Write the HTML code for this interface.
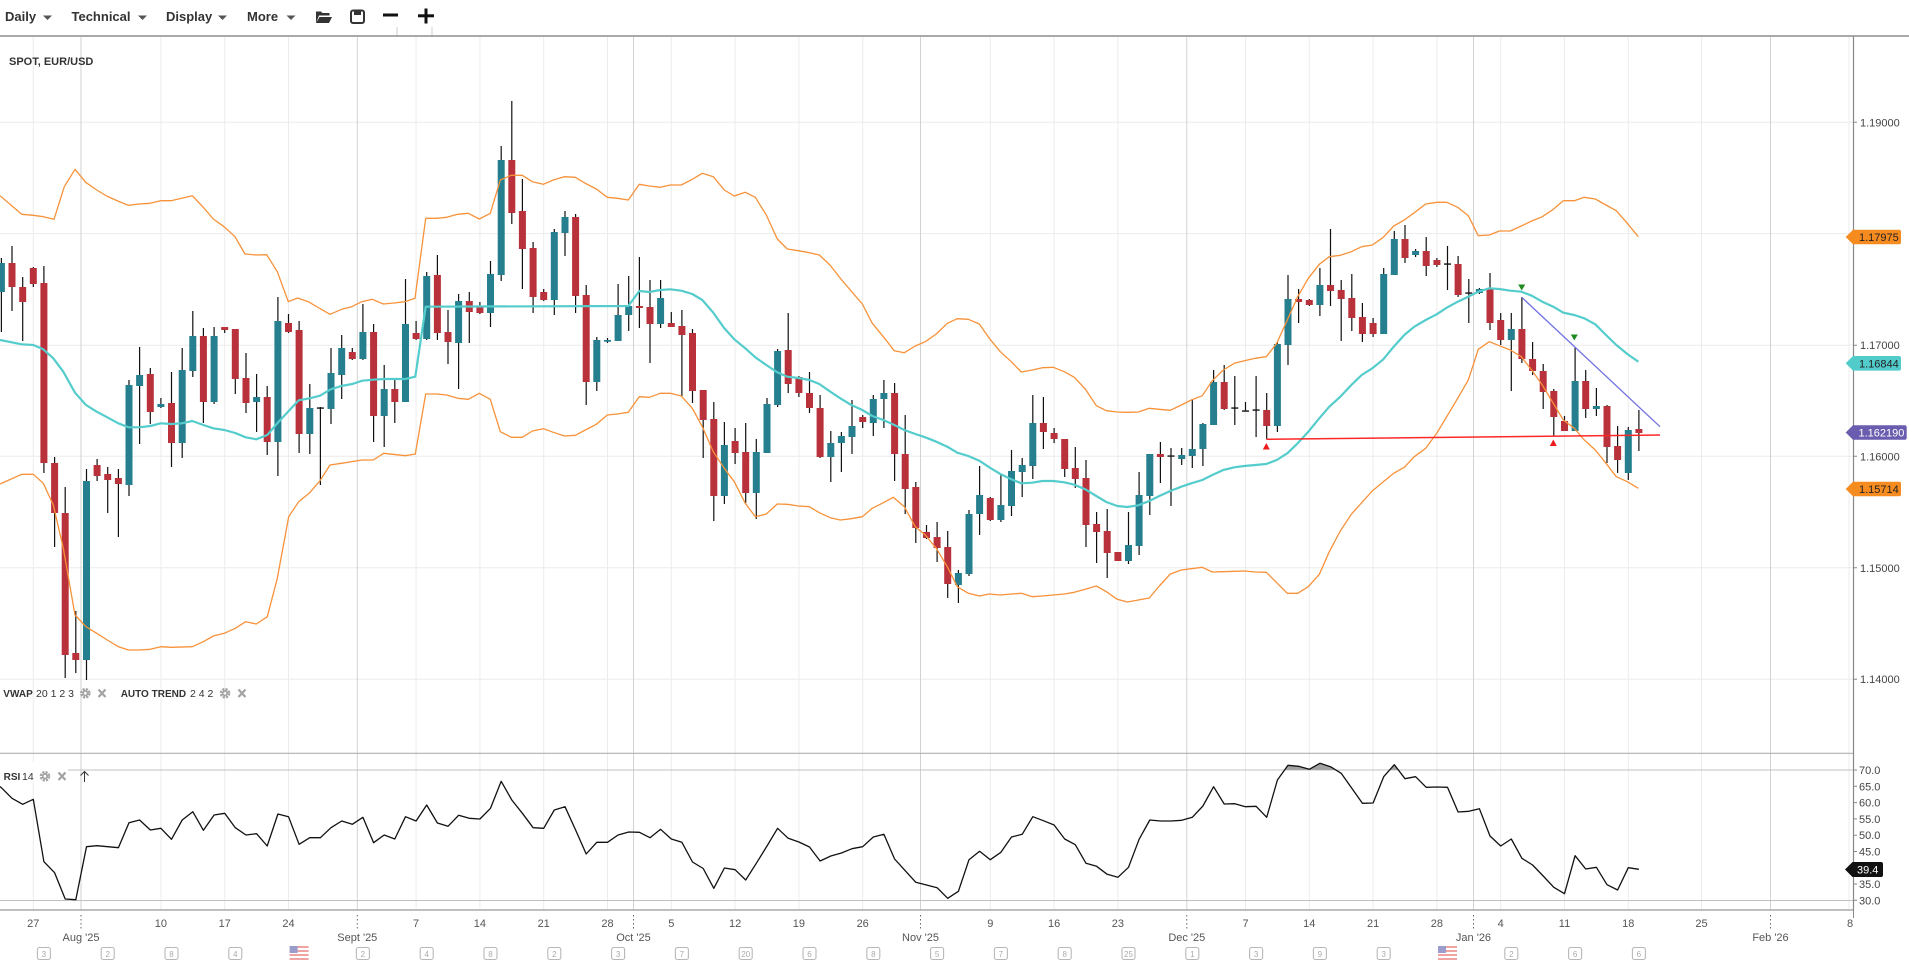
<!DOCTYPE html>
<html><head><meta charset="utf-8"><style>
html,body{margin:0;padding:0;background:#fff;width:1909px;height:966px;overflow:hidden}
svg{display:block;font-family:"Liberation Sans",Arial,sans-serif}
</style></head><body>
<svg width="1909" height="966" viewBox="0 0 1909 966" xmlns="http://www.w3.org/2000/svg">
<rect width="1909" height="966" fill="#fff"/>
<!-- toolbar -->
<g font-size="13" font-weight="bold" fill="#333">
<text x="5" y="21">Daily</text><text x="71.5" y="21">Technical</text><text x="166" y="21">Display</text><text x="247" y="21">More</text>
</g>
<g fill="#555"><polygon points="43,15.5 52,15.5 47.5,20"/><polygon points="138,15.5 147,15.5 142.5,20"/><polygon points="218,15.5 227,15.5 222.5,20"/><polygon points="286.5,15.5 295.5,15.5 291,20"/></g>
<path d="M316 11.5h5l1.5 1.5h7v2.5h-10.5l-3 7.5z M319.5 17h12.5l-3 6h-13z" fill="#333"/>
<rect x="351" y="10.5" width="13" height="12.5" rx="2" fill="none" stroke="#333" stroke-width="2"/><rect x="354" y="11" width="7" height="4" fill="#333"/>
<rect x="383" y="13.5" width="15" height="3" fill="#111"/>
<rect x="418" y="14.3" width="16" height="3" fill="#111"/><rect x="424.5" y="8.5" width="3" height="15" fill="#111"/>
<path d="M397 27V36M432 27V36" stroke="#ccc" stroke-width="1"/>
<line x1="0" y1="36" x2="1909" y2="36" stroke="#777" stroke-width="1.3"/>
<!-- grid -->
<g stroke="#ececec" stroke-width="1">
<path d="M0 122.3H1853M0 233.6H1853M0 345.2H1853M0 456.3H1853M0 567.8H1853M0 679.2H1853"/>
<path d="M33.3 37V910M160.9 37V910M224.7 37V910M288.5 37V910M416.1 37V910M479.9 37V910M543.7 37V910M607.5 37V910M671.3 37V910M735.1 37V910M798.9 37V910M862.7 37V910M990.3 37V910M1054.1 37V910M1117.9 37V910M1245.5 37V910M1309.3 37V910M1373.1 37V910M1436.9 37V910M1500.7 37V910M1564.5 37V910M1628.3 37V910M1701.5 37V910M1849 37V910"/>
</g>
<path d="M81 37V910M357.3 37V910M633.5 37V910M920.5 37V910M1186.8 37V910M1473.5 37V910M1770.5 37V910" stroke="#d2d2d2" stroke-width="1"/>
<text x="9" y="65" font-size="11" font-weight="bold" fill="#333">SPOT, EUR/USD</text>
<!-- candles -->
<path stroke="#111" stroke-width="1.2" fill="none" d="M1.4 258V332M12 246V311M22.7 277V341M33.3 267V287M43.9 266V473M54.6 457V547M65.2 487V678M75.8 611V673M86.5 469V680M97.1 459V481M107.7 467V513M118.4 469V537M129 380V496M139.6 347V444M150.3 368V424M160.9 398V408M171.5 372V467M182.2 348V458M192.8 311V377M203.4 328V423M214.1 327V404M224.7 327V333M235.3 329V394M246 353V413M256.6 374V432M267.2 386V455M277.9 297V476M288.5 314V333M299.1 321V453M309.8 384V454M320.4 407V485M331 348V424M341.7 335V399M352.3 348V360M362.9 304V360M373.6 324V442M384.2 365V447M394.8 380V423M405.5 279V402M416.1 321V340M426.7 272V340M437.4 255V340M448 310V364M458.6 294V389M469.3 292V343M479.9 302V314M490.5 261V327M501.2 146V281M511.8 101V224M522.4 179V289M533.1 242V313M543.7 289V301M554.3 229V315M565 211V256M575.6 214V313M586.2 285V405M596.8 337V391M607.5 338V343M618.1 284V341M628.7 276V331M639.4 257V328M650 280V363M660.6 280V328M671.3 312V327M681.9 310V396M692.5 329V403M703.2 390V458M713.8 402V521M724.4 422V504M735.1 428V464M745.7 423V503M756.3 439V519M767 398V453M777.6 349V407M788.2 313V393M798.9 376V397M809.5 372V413M820.1 395V458M830.8 431V482M841.4 432V472M852 400V454M862.7 415V428M873.3 395V436M883.9 380V428M894.6 383V481M905.2 415V514M915.8 482V543M926.5 525V539M937.1 522V562M947.7 531V598M958.4 570V603M969 510V576M979.6 466V535M990.3 497V521M1000.9 475V522M1011.5 450V516M1022.2 458V497M1032.8 395V479M1043.4 397V449M1054.1 428V443M1064.7 439V477M1075.3 447V488M1086 460V547M1096.6 512V563M1107.2 509V578M1128.5 512V564M1139.1 472V555M1149.8 454V515M1160.4 442V483M1171 448V506M1181.7 448V465M1192.3 399V468M1202.9 423V466M1213.6 370V425M1224.2 365V410M1234.8 376V425M1245.5 402V411M1256.1 376V437M1266.7 393V439M1277.4 342V432M1288 275V365M1298.6 289V323M1309.3 299V306M1319.9 268V316M1330.5 229V306M1341.2 280V341M1351.8 274V331M1362.4 303V342M1373.1 318V337M1383.7 268V334M1394.3 231V275M1405 225V263M1415.6 249V257M1426.2 237V276M1436.9 258V267M1447.5 246V290M1458.1 256V297M1468.8 279V323M1479.4 288V294M1490 273V330M1500.7 313V345M1511.3 313V391M1521.9 297V363M1532.6 342V375M1543.2 364V409M1553.8 389V436M1564.5 416V431M1575.1 347V431M1585.7 370V418M1596.4 388V416M1607 405V463M1617.6 426V473M1628.3 427V480M1638.9 410V451"/>
<path fill="#267f8f" d="M-2.1 263h7v29h-7zM83 481h7v179h-7zM125.5 385h7v100h-7zM136.1 375h7v11h-7zM157.4 404h7v3h-7zM178.7 370h7v73h-7zM189.3 336h7v35h-7zM210.6 336h7v66h-7zM253.1 397h7v5h-7zM274.4 321h7v121h-7zM306.3 408h7v26h-7zM327.5 373h7v36h-7zM338.2 348h7v27h-7zM359.4 332h7v27h-7zM380.7 389h7v27h-7zM402 324h7v78h-7zM423.2 276h7v63h-7zM455.1 301h7v42h-7zM487 274h7v39h-7zM497.7 160h7v115h-7zM550.8 232h7v68h-7zM561.5 217h7v16h-7zM593.3 340h7v42h-7zM604 340h7v1.8h-7zM614.6 315h7v26h-7zM625.2 306h7v9h-7zM657.1 298h7v26h-7zM720.9 445h7v51h-7zM752.8 452h7v41h-7zM763.5 404h7v49h-7zM774.1 351h7v54h-7zM827.3 443h7v14h-7zM837.9 436h7v7h-7zM848.5 426h7v11h-7zM869.8 399h7v24h-7zM880.4 393h7v6h-7zM954.9 573h7v12h-7zM965.5 514h7v60h-7zM976.1 495h7v19h-7zM997.4 505h7v15h-7zM1008 471h7v35h-7zM1018.7 465h7v7h-7zM1029.3 423h7v43h-7zM1125 545h7v16h-7zM1135.6 495h7v51h-7zM1146.3 454h7v42h-7zM1178.2 455h7v4h-7zM1188.8 449h7v7h-7zM1199.4 424h7v25h-7zM1210.1 382h7v43h-7zM1273.9 344h7v82h-7zM1284.5 299h7v46h-7zM1316.4 285h7v20h-7zM1380.2 274h7v60h-7zM1390.8 239h7v36h-7zM1412.1 251h7v4h-7zM1475.9 289h7v4h-7zM1507.8 329h7v11h-7zM1571.6 381h7v50h-7zM1592.9 406h7v3h-7zM1624.8 430h7v43h-7z"/>
<path fill="#b9323b" d="M8.5 263h7v24h-7zM19.2 287h7v15h-7zM29.8 268h7v16h-7zM40.4 283h7v180h-7zM51.1 463h7v50h-7zM61.7 513h7v142h-7zM72.3 653h7v7h-7zM93.6 465h7v11h-7zM104.2 474h7v6h-7zM114.9 478h7v6h-7zM146.8 374h7v38h-7zM168 403h7v40h-7zM199.9 336h7v66h-7zM221.2 327h7v3h-7zM231.8 329h7v50h-7zM242.5 378h7v25h-7zM263.7 397h7v45h-7zM285 323h7v9h-7zM295.6 330h7v104h-7zM348.8 352h7v7h-7zM370.1 332h7v84h-7zM391.3 389h7v13h-7zM412.6 333h7v6h-7zM433.9 275h7v58h-7zM444.5 332h7v10h-7zM465.8 301h7v11h-7zM476.4 307h7v6h-7zM508.3 160h7v53h-7zM518.9 211h7v38h-7zM529.6 248h7v49h-7zM540.2 292h7v8h-7zM572.1 217h7v79h-7zM582.7 295h7v87h-7zM635.9 306h7v2h-7zM646.5 307h7v17h-7zM667.8 323h7v4h-7zM678.4 326h7v9h-7zM689 333h7v58h-7zM699.7 390h7v30h-7zM710.3 419h7v77h-7zM731.6 441h7v12h-7zM742.2 452h7v41h-7zM784.7 350h7v34h-7zM795.4 377h7v16h-7zM806 393h7v15h-7zM816.6 408h7v49h-7zM859.2 417h7v5h-7zM891.1 393h7v61h-7zM901.7 454h7v35h-7zM912.3 487h7v41h-7zM923 532h7v6h-7zM933.6 537h7v11h-7zM944.2 547h7v37h-7zM986.8 498h7v22h-7zM1039.9 423h7v9h-7zM1050.6 433h7v6h-7zM1061.2 439h7v30h-7zM1071.8 468h7v11h-7zM1082.5 478h7v47h-7zM1093.1 524h7v8h-7zM1103.7 531h7v22h-7zM1114.4 552h7v9h-7zM1156.9 454h7v3h-7zM1220.7 382h7v27h-7zM1263.2 410h7v16h-7zM1295.1 299h7v3h-7zM1305.8 300h7v5h-7zM1327 285h7v6h-7zM1337.7 290h7v9h-7zM1348.3 298h7v20h-7zM1358.9 317h7v17h-7zM1369.6 323h7v11h-7zM1401.5 239h7v19h-7zM1422.7 251h7v15h-7zM1433.4 260h7v5h-7zM1454.6 264h7v31h-7zM1486.5 289h7v34h-7zM1497.2 320h7v20h-7zM1518.4 329h7v30h-7zM1529.1 359h7v12h-7zM1539.7 371h7v21h-7zM1550.3 391h7v26h-7zM1561 421h7v10h-7zM1582.2 381h7v28h-7zM1603.5 406h7v41h-7zM1614.1 446h7v14h-7zM1635.4 429h7v4h-7z"/>
<path fill="#111" d="M316.9 407.4h7v1.3h-7zM1167.5 455.4h7v1.3h-7zM1231.3 407.4h7v1.3h-7zM1242 410.4h7v1.3h-7zM1252.6 409.4h7v1.3h-7zM1444 263.4h7v1.3h-7zM1465.3 292.4h7v1.3h-7z"/>
<!-- bands -->
<g fill="none" stroke-linejoin="round">
<polyline stroke="#f7923a" stroke-width="1.3" points="0,195.7 21.7,214.3 33.3,215.3 43.3,216.7 54,219.3 64.3,186.7 75,169.3 85.7,182.3 96.7,190 106.7,196 117.7,201 128.3,205.3 139,204 150,203.3 160.7,200.7 171,200.7 181.7,198.3 192.3,195.7 202.7,206.7 213.3,219 224,226.7 235,236.7 245,254 256,255 266.7,254.7 277.3,271.7 288.3,301.7 297.7,298 308.3,301.7 319,308 330,314.3 341.7,309.3 351.7,306.7 361.7,301.7 372.3,299.3 383.3,304 394,303 405,301.7 415,298.3 425.7,218.3 436.7,218.3 446.7,217.3 457.7,214.3 468.3,213.3 479.3,219 490.3,213.3 500.3,180 511.3,175.3 522.3,175.3 532.3,181.7 543.3,184.3 553.3,180 564.3,176.7 575.3,177.3 585.3,183.3 596.3,189 607.3,197.3 617.3,198.3 628.3,200 639.3,184.3 649.3,186 660.3,187.3 670.3,185 681.3,185 692.3,179.3 702.3,173.3 713.3,176.7 724.3,190 734.3,196 745.3,192.3 755.3,197.3 766.3,215 777.3,239 787.3,249 798.3,250.7 809.3,252.7 819.3,255 830,265 841.7,280 851.7,291.7 862.3,304 872.3,323.3 883.3,336.7 894.3,350.7 904.3,352.7 915.3,346 925.3,341.7 936.3,334 947.3,323.3 957.3,318.7 968.3,319.3 979.3,324 989.3,338.3 1000.3,351.7 1011.3,361.7 1021.3,372 1032.3,370 1042.3,367.7 1053.3,367.3 1064.3,371.7 1074.3,377.3 1085.3,389 1096.3,405.7 1106.3,410.7 1117.3,412 1127.3,412.3 1138.3,412 1149.3,408.3 1159.3,409.3 1170.3,410.3 1181.3,405 1191.3,400 1202.3,395.7 1212.3,380.7 1223.3,370 1234.3,363.3 1244.3,360.7 1255.3,358.3 1266.3,356.7 1276.7,343.3 1287.3,320 1297.7,296.7 1308.3,278.3 1319.3,264.3 1329.3,256.7 1340.3,255.3 1351.3,251.7 1361.7,246.7 1372.3,245 1383.3,237.3 1393.7,226 1404.3,220 1414.3,212.7 1425.7,204 1436.7,202.3 1446.7,202.3 1457.7,207.3 1468.3,215.7 1478.3,235.7 1489.3,235 1499.3,231 1510.3,231 1521.3,226 1531.7,221 1542.3,216.7 1553.3,209.3 1563.3,200.7 1574.3,200.7 1584.3,197.3 1595.3,199 1606,205 1616.3,210.7 1627.3,223.3 1638.3,236.7"/>
<polyline stroke="#f7923a" stroke-width="1.3" points="0,484 21.7,474.3 33.3,474.3 43.3,483.3 53.3,505 63.3,548.3 75,615 86,626.7 96.7,633.3 107.3,640 118.3,646.7 128.7,650 139.3,650 150.3,649.3 160.7,646.7 171.7,647.3 192.3,646.7 203.3,641.7 213.3,636 224.3,633.3 235.3,628.3 245.7,621.7 256.3,624 267.3,616.7 277.3,578.3 288.7,516.7 298.7,501.7 309.7,492.7 320,480.7 330,465 341.3,463.3 362.3,460 373.3,460 383.7,453.3 405.3,455.7 415.3,454 425.7,394 436.7,394 446.7,395 457.7,398.3 468.3,399.3 479.3,393.3 490.3,399.3 500.3,431.7 511.3,437.3 522.3,437.3 532.3,431 543.3,428.7 553.3,432.3 564.3,436 575.3,435.3 585.3,430 596.3,424.3 607.3,415 617.3,414 628.3,412.3 639.3,396.7 649.3,397.3 660.3,393.3 670.3,393.3 681.3,396 692.3,408.3 702.3,426.7 713.3,451.7 724.3,468.3 734.3,481.7 745.3,503.3 755.3,516.7 766.3,514 777.3,504 787.3,504.3 798.3,506 809.3,506.7 819.3,512.7 830.3,517.7 840.3,520 851.3,518.7 862.3,516.7 872.3,508.3 883.3,502.7 893.3,497.3 904.3,506.7 915.3,526.7 925.3,535 936.3,548.3 947.3,566.7 957.3,586.7 968.3,593.3 979.3,596 989.3,594 1000.3,595 1011.3,594 1021.3,593.3 1032.3,596.7 1042.3,596 1053.3,595 1064.3,594 1074.3,592.3 1085.3,589.3 1096.3,586 1106.3,591.7 1117.3,599.3 1127.3,602 1138.3,600 1149.3,598 1159.3,586 1170.3,574 1181.3,570 1191.3,568.7 1202.3,567.3 1212.3,572 1223.3,571.7 1234.3,571.3 1244.3,571 1255.3,572 1266.3,572.3 1276.7,582.7 1287.3,593.3 1297.7,593.3 1308.3,586.7 1319.3,574.3 1329.3,551.7 1340.3,531 1351.3,514.3 1361.7,502.7 1372.3,491 1383.3,481.7 1393.7,473.3 1404.3,467.3 1414.3,456.7 1425.7,448.3 1436.7,433.3 1446.7,416.7 1457.7,398.3 1468.3,380 1478.3,349.3 1489.3,341.7 1499.3,345.7 1510.3,350 1521.3,356.7 1531.7,370 1542.3,385 1553.3,403.3 1563.3,420 1574.3,428.3 1584.3,440 1595.3,450 1606,463.3 1616.3,476.7 1627.3,481.7 1638.3,488.3"/>
<polyline stroke="#55cccc" stroke-width="2.2" points="0,340 21.7,344.3 33.3,345 43.3,349.3 53.3,358.3 63.3,371.7 75,392.7 86,405 96.7,411.7 107.3,417.3 118.3,423.3 128.7,427.3 139.3,427.3 150.3,426 160.7,423.3 171.7,424 181.7,423.3 192.3,421 203.3,425 213.3,428.3 224.3,430 235.3,433 245.7,437.3 256.3,439.3 267.3,435 277.3,423.3 288.7,411 298.7,400.3 309.7,398.3 320,395.7 330.7,389.3 341.3,386 352.3,384 362.3,380.7 373.3,379.7 383.7,379 394.7,379 405.3,379 415.3,376.7 425.7,306.7 628.3,306 639.3,291 649.3,292 660.3,290 670.3,289.3 681.3,290.7 692.3,294 702.3,300 713.3,312.7 724.3,328.3 734.3,339.3 745.3,348.3 755.3,357.3 766.3,365 777.3,372.3 787.3,376.7 798.3,378 809.3,380 819.3,384 830.3,391.7 840.3,398.3 851.3,405 862.3,410 872.3,416 883.3,420 894.3,425 904.3,430 915.3,434 925.3,437.3 936.3,441.7 947.3,446.7 957.3,452.7 968.3,456 979.3,460.7 989.3,467.3 1000.3,474 1011.3,479.3 1021.3,483.3 1032.3,482.7 1042.3,481 1053.3,481 1064.3,482.3 1074.3,484.7 1085.3,489.3 1096.3,496 1106.3,502 1117.3,506 1127.3,507 1138.3,505.3 1149.3,501 1159.3,496 1170.3,491 1181.3,486.7 1191.3,483.3 1202.3,480 1212.3,475 1223.3,470 1234.3,467.3 1244.3,466 1255.3,465 1266.3,464 1276.7,460 1287.3,453.3 1297.7,443.3 1308.3,431.7 1319.3,418.3 1329.3,406.7 1340.3,396.7 1351.3,385 1361.7,375 1372.3,368.3 1383.3,359.3 1393.7,346.7 1404.3,335 1414.3,326.7 1425.7,320 1436.7,314.3 1446.7,307.7 1457.7,301.7 1468.3,296.7 1478.3,291.7 1489.3,288.3 1499.3,289 1510.3,290.7 1521.3,291.7 1531.7,295.7 1542.3,301.7 1553.3,306.7 1563.3,312.7 1574.3,315 1584.3,318.3 1595.3,324.3 1606,335 1616.3,345 1627.3,354 1638.3,361.7"/>
</g>
<!-- trend lines -->
<line x1="1266.3" y1="439.3" x2="1660" y2="435" stroke="#ff2828" stroke-width="1.5"/>
<line x1="1521.7" y1="297.3" x2="1660" y2="426.7" stroke="#7373e2" stroke-width="1.3"/>
<g fill="#ee1c1c"><polygon points="1262.8,449.5 1269.8,449.5 1266.3,443"/><polygon points="1549.8,446 1556.8,446 1553.3,439.5"/></g>
<g fill="#1f8a1f"><polygon points="1518.2,284.5 1525.2,284.5 1521.7,290.5"/><polygon points="1570.8,334.5 1577.8,334.5 1574.3,340.5"/></g>
<!-- legends main -->
<g font-size="10" fill="#333"><text x="3.3" y="697" font-weight="bold">VWAP</text><text x="36" y="697" font-size="10.5">20 1 2 3</text><text x="120.7" y="697" font-weight="bold">AUTO TREND</text><text x="190" y="697" font-size="10.5">2 4 2</text></g>
<g fill="none" stroke="#a3a3a3">
<circle cx="85.3" cy="693.3" r="4" stroke-width="2.6" stroke-dasharray="2.1 1.1"/><circle cx="85.3" cy="693.3" r="2.2" stroke-width="1.6"/>
<circle cx="225" cy="693.3" r="4" stroke-width="2.6" stroke-dasharray="2.1 1.1"/><circle cx="225" cy="693.3" r="2.2" stroke-width="1.6"/>
<path d="M98.5 689.5l7 7.5M105.5 689.5l-7 7.5M238.5 689.5l7 7.5M245.5 689.5l-7 7.5" stroke-width="2.2"/>
</g>
<!-- panel separators -->
<line x1="0" y1="753.3" x2="1853" y2="753.3" stroke="#b0b0b0" stroke-width="1.2"/>
<line x1="0" y1="770" x2="1853" y2="770" stroke="#c0c0c0" stroke-width="1"/>
<line x1="0" y1="900.5" x2="1853" y2="900.5" stroke="#c0c0c0" stroke-width="1"/>
<line x1="0" y1="910" x2="1853" y2="910" stroke="#999" stroke-width="1.2"/>
<!-- RSI -->
<polygon fill="#a3a3a3" points="1284.6,770 1288,765.3 1298.6,766.3 1309.3,769.3 1319.9,763.3 1330.5,766.7 1335.9,770"/>
<polygon fill="#a3a3a3" points="1389.6,770 1394.3,764.7 1398.4,770"/>
<polyline fill="none" stroke="#111" stroke-width="1.3" stroke-linejoin="round" points="0,786.5 1.4,787.7 12,798.3 22.7,804.3 33.3,799.3 43.9,861.7 54.6,872.7 65.2,899 75.8,899.7 86.5,846.7 97.1,845.7 107.7,846.7 118.4,847.7 129,822.7 139.6,820 150.3,830 160.9,828.3 171.5,839.3 182.2,820 192.8,811.7 203.4,830.3 214.1,815 224.7,813.3 235.3,827.7 246,835 256.6,833.7 267.2,846 277.9,814 288.5,816.7 299.1,844.3 309.8,837.7 320.4,837.7 331,827.7 341.7,821 352.3,824.3 362.9,817.3 373.6,842.7 384.2,835 394.8,839 405.5,816.7 416.1,821 426.7,805 437.4,823 448,826.3 458.6,815.3 469.3,818.3 479.9,819 490.5,808.3 501.2,781.3 511.8,800 522.4,813.3 533.1,827.7 543.7,828.3 554.3,810 565,806.7 575.6,830 586.2,854 596.8,842.3 607.5,842.3 618.1,835 628.7,832 639.4,832.3 650,837.7 660.6,829.3 671.3,839 681.9,842.3 692.5,862 703.2,868.5 713.8,888.3 724.4,868 735.1,869.7 745.7,880 756.3,863.3 767,846 777.6,828.3 788.2,838.3 798.9,842 809.5,847 820.1,861 830.8,856 841.4,853 852,848.7 862.7,846.7 873.3,837 883.9,834.3 894.6,859 905.2,870.7 915.8,882.3 926.5,885 937.1,887.7 947.7,898.3 958.4,891.3 969,859.7 979.6,851.3 990.3,859.7 1000.9,852.3 1011.5,837 1022.2,834.3 1032.8,816.7 1043.4,820.7 1054.1,825 1064.7,839 1075.3,844.7 1086,863.3 1096.6,866.3 1107.2,874.3 1117.9,877.3 1128.5,867.3 1139.1,839.3 1149.8,820 1160.4,821 1171,821 1181.7,820.3 1192.3,817.3 1202.9,806 1213.6,786.7 1224.2,804 1234.8,803.7 1245.5,806.7 1256.1,806.3 1266.7,817.3 1277.4,780 1288,765.3 1298.6,766.3 1309.3,769.3 1319.9,763.3 1330.5,766.7 1341.2,773.3 1351.8,788.3 1362.4,803.3 1373.1,803 1383.7,776.7 1394.3,764.7 1405,778.7 1415.6,776.7 1426.2,787.3 1436.9,787 1447.5,787.3 1458.1,812 1468.8,811.3 1479.4,808.7 1490,836 1500.7,846 1511.3,839 1521.9,858.3 1532.6,865 1543.2,876 1553.8,887.3 1564.5,893.7 1575.1,855.7 1585.7,869 1596.4,867.3 1607,884.7 1617.6,890 1628.3,867.7 1638.9,869.3"/>
<rect x="0" y="762" width="68" height="20" fill="#fff"/>
<text x="3.6" y="780" font-size="10" font-weight="bold" fill="#333">RSI</text><text x="22" y="780" font-size="10.5" fill="#333">14</text>
<g fill="none" stroke="#a3a3a3"><circle cx="45" cy="776.3" r="4" stroke-width="2.6" stroke-dasharray="2.1 1.1"/><circle cx="45" cy="776.3" r="2.2" stroke-width="1.6"/><path d="M58.5 772.5l7 7.5M65.5 772.5l-7 7.5" stroke-width="2.2"/></g>
<path d="M84.5 782V771.5M80.5 775.5l4-4 4 4" fill="none" stroke="#333" stroke-width="1"/>
<!-- right axis -->
<line x1="1853.5" y1="36" x2="1853.5" y2="910" stroke="#888" stroke-width="1.2"/>
<path d="M1853 122.3h4M1853 233.6h4M1853 345.2h4M1853 456.3h4M1853 567.8h4M1853 679.2h4M1853 770h4M1853 786.3h4M1853 802.6h4M1853 818.9h4M1853 835.2h4M1853 851.5h4M1853 867.8h4M1853 884h4M1853 900.3h4" stroke="#888" stroke-width="1"/>
<g font-size="11" fill="#444">
<text x="1860" y="126.3">1.19000</text><text x="1860" y="237.6">1.18000</text><text x="1860" y="349.2">1.17000</text><text x="1860" y="460.3">1.16000</text><text x="1860" y="571.8">1.15000</text><text x="1860" y="683.2">1.14000</text>
<text x="1859" y="774">70.0</text><text x="1859" y="790.3">65.0</text><text x="1859" y="806.6">60.0</text><text x="1859" y="822.9">55.0</text><text x="1859" y="839.2">50.0</text><text x="1859" y="855.5">45.0</text><text x="1859" y="888">35.0</text><text x="1859" y="904.3">30.0</text>
</g>
<!-- tags -->
<path d="M1845.7 237L1853 229.7H1899Q1901 229.7 1901 231.7V242.3Q1901 244.3 1899 244.3H1853Z" fill="#f68b1f"/>
<path d="M1845.7 363.3L1853 356H1899Q1901 356 1901 358V368.6Q1901 370.6 1899 370.6H1853Z" fill="#52cbcb"/>
<path d="M1845.7 432.5L1853 425.2H1904.7Q1906.7 425.2 1906.7 427.2V437.8Q1906.7 439.8 1904.7 439.8H1853Z" fill="#6a5db0"/>
<path d="M1845.7 489L1853 481.7H1899Q1901 481.7 1901 483.7V494.3Q1901 496.3 1899 496.3H1853Z" fill="#f68b1f"/>
<path d="M1845 869.5L1852.5 862H1881Q1883 862 1883 864V875Q1883 877 1881 877H1852.5Z" fill="#111"/>
<g font-size="11">
<text x="1859" y="241" fill="#222">1.17975</text><text x="1859" y="367.3" fill="#222">1.16844</text><text x="1858.5" y="436.5" fill="#fff">1.162190</text><text x="1859" y="493" fill="#222">1.15714</text><text x="1857" y="873.5" fill="#fff">39.4</text>
</g>
<!-- date axis -->
<g font-size="11" fill="#555" text-anchor="middle">
<text x="33.3" y="927">27</text><text x="160.9" y="927">10</text><text x="224.7" y="927">17</text><text x="288.5" y="927">24</text><text x="416.1" y="927">7</text><text x="479.9" y="927">14</text><text x="543.7" y="927">21</text><text x="607.5" y="927">28</text><text x="671.3" y="927">5</text><text x="735.1" y="927">12</text><text x="798.9" y="927">19</text><text x="862.7" y="927">26</text><text x="990.3" y="927">9</text><text x="1054.1" y="927">16</text><text x="1117.9" y="927">23</text><text x="1245.5" y="927">7</text><text x="1309.3" y="927">14</text><text x="1373.1" y="927">21</text><text x="1436.9" y="927">28</text><text x="1500.7" y="927">4</text><text x="1564.5" y="927">11</text><text x="1628.3" y="927">18</text><text x="1701.5" y="927">25</text><text x="1850" y="927">8</text>
<text x="81" y="941">Aug '25</text><text x="357.3" y="941">Sept '25</text><text x="633.5" y="941">Oct '25</text><text x="920.5" y="941">Nov '25</text><text x="1186.8" y="941">Dec '25</text><text x="1473.5" y="941">Jan '26</text><text x="1770.5" y="941">Feb '26</text>
</g>
<path d="M81 915V930M357.3 915V930M633.5 915V930M920.5 915V930M1186.8 915V930M1473.5 915V930M1770.5 915V930" stroke="#666" stroke-width="1" stroke-dasharray="1.5 2.5"/>
<path d="M1853.5 910V918" stroke="#888" stroke-width="1"/>
<!-- calendar icons -->
<g fill="#fff" stroke="#b8b8b8" stroke-width="1.1">
<rect x="37.4" y="947.5" width="13" height="12" rx="2"/><rect x="101.2" y="947.5" width="13" height="12" rx="2"/><rect x="165" y="947.5" width="13" height="12" rx="2"/><rect x="228.8" y="947.5" width="13" height="12" rx="2"/><rect x="356.4" y="947.5" width="13" height="12" rx="2"/><rect x="420.2" y="947.5" width="13" height="12" rx="2"/><rect x="484" y="947.5" width="13" height="12" rx="2"/><rect x="547.8" y="947.5" width="13" height="12" rx="2"/><rect x="611.6" y="947.5" width="13" height="12" rx="2"/><rect x="675.4" y="947.5" width="13" height="12" rx="2"/><rect x="739.2" y="947.5" width="13" height="12" rx="2"/><rect x="803" y="947.5" width="13" height="12" rx="2"/><rect x="866.8" y="947.5" width="13" height="12" rx="2"/><rect x="930.6" y="947.5" width="13" height="12" rx="2"/><rect x="994.4" y="947.5" width="13" height="12" rx="2"/><rect x="1058.2" y="947.5" width="13" height="12" rx="2"/><rect x="1122" y="947.5" width="13" height="12" rx="2"/><rect x="1185.8" y="947.5" width="13" height="12" rx="2"/><rect x="1249.6" y="947.5" width="13" height="12" rx="2"/><rect x="1313.4" y="947.5" width="13" height="12" rx="2"/><rect x="1377.2" y="947.5" width="13" height="12" rx="2"/><rect x="1504.8" y="947.5" width="13" height="12" rx="2"/><rect x="1568.6" y="947.5" width="13" height="12" rx="2"/><rect x="1632.4" y="947.5" width="13" height="12" rx="2"/>
</g>
<g font-size="8" fill="#aaa" text-anchor="middle">
<text x="43.9" y="957">3</text><text x="107.7" y="957">2</text><text x="171.5" y="957">8</text><text x="235.3" y="957">4</text><text x="362.9" y="957">2</text><text x="426.7" y="957">4</text><text x="490.5" y="957">8</text><text x="554.3" y="957">2</text><text x="618.1" y="957">3</text><text x="681.9" y="957">7</text><text x="745.7" y="957">20</text><text x="809.5" y="957">6</text><text x="873.3" y="957">8</text><text x="937.1" y="957">5</text><text x="1000.9" y="957">7</text><text x="1064.7" y="957">8</text><text x="1128.5" y="957">25</text><text x="1192.3" y="957">1</text><text x="1256.1" y="957">3</text><text x="1319.9" y="957">9</text><text x="1383.7" y="957">3</text><text x="1511.3" y="957">2</text><text x="1575.1" y="957">6</text><text x="1638.9" y="957">6</text>
</g>
<g>
<rect x="289.6" y="946" width="19" height="14" fill="#fff"/>
<path d="M289.6 946h19v2h-19zM289.6 950h19v2h-19zM289.6 954h19v2h-19zM289.6 958h19v2h-19z" fill="#f0a3a3"/>
<rect x="289.6" y="946" width="8" height="7" fill="#9a9ccc"/>
<rect x="1438" y="946" width="19" height="14" fill="#fff"/>
<path d="M1438 946h19v2h-19zM1438 950h19v2h-19zM1438 954h19v2h-19zM1438 958h19v2h-19z" fill="#f0a3a3"/>
<rect x="1438" y="946" width="8" height="7" fill="#9a9ccc"/>
</g>
</svg>
</body></html>
